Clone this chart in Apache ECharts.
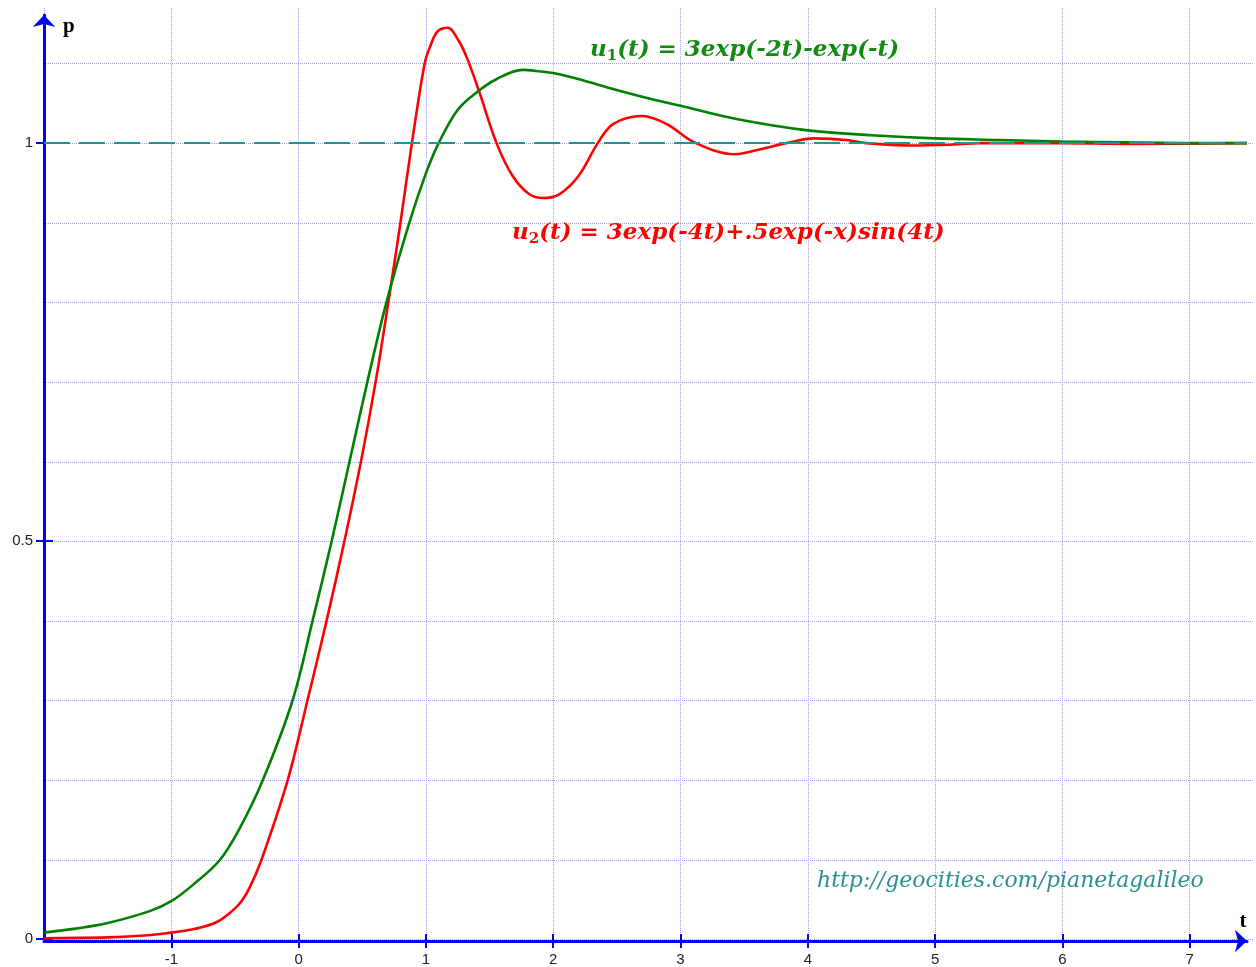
<!DOCTYPE html>
<html>
<head>
<meta charset="utf-8">
<script src="https://cdn.jsdelivr.net/npm/echarts@6/dist/echarts.min.js"></script>
<style>
html,body{margin:0;padding:0;background:#ffffff;}
#chart{width:1256px;height:967px;}
</style>
</head>
<body>
<div id="chart"></div>
<script>
// ---- data ----
const tGreen = [-2, -1.75, -1.5, -1.17, -1.0, -0.83, -0.62, -0.466, -0.28, -0.047, 0.11, 0.26, 0.40, 0.54, 0.69, 0.87, 1.0, 1.1, 1.25, 1.4, 1.55, 1.76, 1.9, 2.0, 2.21, 2.47, 2.73, 3.0, 3.45, 4.0, 4.5, 5.0, 5.5, 6.0, 6.5, 7.0, 7.45];
const pGreen = [0.008, 0.013, 0.020, 0.035, 0.0475, 0.068, 0.099, 0.138, 0.200, 0.300, 0.400, 0.500, 0.600, 0.700, 0.800, 0.900, 0.962, 1.000, 1.042, 1.064, 1.080, 1.092, 1.090, 1.088, 1.080, 1.068, 1.057, 1.047, 1.030, 1.016, 1.010, 1.006, 1.004, 1.002, 1.001, 1.000, 1.000];

const tRed = [-2, -1.5, -1.25, -1.0, -0.908, -0.777, -0.647, -0.57, -0.466, -0.387, -0.295, -0.085, 0.07, 0.22, 0.36, 0.49, 0.605, 0.705, 0.8, 0.89, 0.99, 1.03, 1.09, 1.17, 1.26, 1.33, 1.42, 1.555, 1.68, 1.81, 1.92, 2.05, 2.2, 2.35, 2.47, 2.7, 2.89, 3.12, 3.425, 3.62, 3.83, 4.05, 4.3, 4.46, 4.82, 5.1, 5.35, 6.0, 6.5, 7.45];
const pRed = [0.001, 0.002, 0.004, 0.008, 0.010, 0.014, 0.021, 0.029, 0.044, 0.064, 0.098, 0.200, 0.300, 0.400, 0.500, 0.600, 0.700, 0.800, 0.900, 1.000, 1.100, 1.120, 1.140, 1.145, 1.128, 1.104, 1.064, 1.000, 0.959, 0.936, 0.931, 0.936, 0.959, 1.000, 1.024, 1.034, 1.024, 1.000, 0.986, 0.992, 1.000, 1.006, 1.004, 1.000, 0.997, 0.998, 1.000, 1.000, 0.999, 1.000];

const xTickValues = [-1, 0, 1, 2, 3, 4, 5, 6, 7];
const yTickValues = [0, 0.5, 1];
const referenceLevel = 1;

const xRange = [-2, 7.45];
const yRange = [0, 1.161];
const gridXRange = [-2, 7];
const gridYRange = [0, 1.1];

const eq1 = '{a|u}{s|1}{a|(t) = 3exp(-2t)-exp(-t)}';
const eq2 = '{a|u}{s|2}{a|(t) = 3exp(-4t)+.5exp(-x)sin(4t)}';
const siteText = 'http://geocities.com/pianetagalileo';

// ---- chart ----
const pairs = (xs, ys) => xs.map((x, i) => [x, ys[i]]);
const BLUE = '#0000ff';
const GRIDC = '#a2a2f2';
const PX_X = 127.3;   // pixels per t unit
const PX_Y = 796.2;   // pixels per p unit
const Y0 = 939.5;     // pixel row of p = 0

const chart = echarts.init(document.getElementById('chart'), null, {renderer: 'canvas'});

const eqStyle = (color) => ({
  a: {fontFamily: 'DejaVu Serif', fontStyle: 'italic', fontWeight: 'bold', fontSize: 23, lineHeight: 28, fill: color, verticalAlign: 'middle'},
  s: {fontFamily: 'DejaVu Serif', fontStyle: 'normal', fontWeight: 'bold', fontSize: 15, lineHeight: 18, fill: color, verticalAlign: 'bottom'}
});

const hidden = {axisLine: {show: false, onZero: false}, axisTick: {show: false}, axisLabel: {show: false}, splitLine: {show: false}};

const option = {
  animation: false,
  backgroundColor: '#ffffff',
  grid: [
    {left: 44, top: 15, width: 1203, height: Y0 - 15, containLabel: false},
    // vertical guide lines: full height
    {left: 44, top: 8, width: 9 * PX_X, height: Y0 - 8, containLabel: false},
    // horizontal guide lines: full width
    {left: 44, top: Y0 - 1.1 * PX_Y, width: 1210, height: 1.1 * PX_Y, containLabel: false}
  ],
  xAxis: [
    {
      type: 'value', gridIndex: 0, min: xRange[0], max: xRange[1], offset: 2, position: 'bottom',
      axisLine: {show: true, onZero: false, symbol: ['none', 'arrow'], symbolSize: [17, 12], lineStyle: {color: BLUE, width: 3}},
      axisTick: {show: true, customValues: xTickValues, length: 7, lineStyle: {color: BLUE, width: 2}},
      axisLabel: {show: true, customValues: xTickValues, margin: 11, color: '#222', fontFamily: 'Liberation Sans', fontSize: 15},
      splitLine: {show: false},
      name: 't', nameLocation: 'end', nameGap: -4,
      nameTextStyle: {fontFamily: 'Liberation Serif', fontWeight: 'bold', fontSize: 21, color: '#000', align: 'center', verticalAlign: 'bottom', padding: [0, 0, 9, 0]}
    },
    {
      type: 'value', gridIndex: 0, min: xRange[0], max: xRange[1], offset: 2, position: 'bottom',
      axisLine: {show: false, onZero: false},
      axisTick: {show: true, inside: true, customValues: xTickValues, length: 7, lineStyle: {color: BLUE, width: 2}},
      axisLabel: {show: false}, splitLine: {show: false}
    },
    Object.assign({type: 'value', gridIndex: 1, min: gridXRange[0], max: gridXRange[1], interval: 1}, hidden,
      {splitLine: {show: true, lineStyle: {color: GRIDC, width: 1, type: 'dotted'}}}),
    Object.assign({type: 'value', gridIndex: 2, min: gridXRange[0], max: gridXRange[1]}, hidden)
  ],
  yAxis: [
    {
      type: 'value', gridIndex: 0, min: yRange[0], max: yRange[1], position: 'left',
      axisLine: {show: true, onZero: false, symbol: ['none', 'arrow'], symbolSize: [17, 12], lineStyle: {color: BLUE, width: 3}},
      axisTick: {show: true, customValues: yTickValues, length: 8, lineStyle: {color: BLUE, width: 2}},
      axisLabel: {show: true, customValues: yTickValues, margin: 11, color: '#222', fontFamily: 'Liberation Sans', fontSize: 15},
      splitLine: {show: false},
      name: 'p', nameLocation: 'end', nameGap: -12,
      nameTextStyle: {fontFamily: 'Liberation Serif', fontWeight: 'bold', fontSize: 21, color: '#000', align: 'left', verticalAlign: 'middle', padding: [0, 0, 0, 19]}
    },
    {
      type: 'value', gridIndex: 0, min: yRange[0], max: yRange[1], position: 'left',
      axisLine: {show: false, onZero: false},
      axisTick: {show: true, inside: true, customValues: yTickValues, length: 9, lineStyle: {color: BLUE, width: 2}},
      axisLabel: {show: false}, splitLine: {show: false}
    },
    Object.assign({type: 'value', gridIndex: 1, min: gridYRange[0], max: gridYRange[1]}, hidden),
    Object.assign({type: 'value', gridIndex: 2, min: gridYRange[0], max: gridYRange[1], interval: 0.1}, hidden,
      {splitLine: {show: true, lineStyle: {color: GRIDC, width: 1, type: 'dotted'}}})
  ],
  series: [
    {
      type: 'line', xAxisIndex: 0, yAxisIndex: 0, data: [], z: 1, silent: true,
      markLine: {
        silent: true, symbol: ['none', 'none'], label: {show: false},
        lineStyle: {color: '#1a9696', width: 2, type: [26, 9]},
        data: [{yAxis: referenceLevel}]
      }
    },
    {
      type: 'line', name: 'u2', xAxisIndex: 0, yAxisIndex: 0, data: pairs(tRed, pRed),
      smooth: 0.35, showSymbol: false, z: 3,
      lineStyle: {color: '#ff0000', width: 2.6}
    },
    {
      type: 'line', name: 'u1', xAxisIndex: 0, yAxisIndex: 0, data: pairs(tGreen, pGreen),
      smooth: 0.35, showSymbol: false, z: 4,
      lineStyle: {color: '#008000', width: 2.6}
    }
  ],
  graphic: [
    {type: 'text', x: 590, y: 50, z: 10, style: {text: eq1, rich: eqStyle('#138a13'), align: 'left', verticalAlign: 'middle'}},
    {type: 'text', x: 512, y: 233, z: 10, style: {text: eq2, rich: eqStyle('#ff0000'), align: 'left', verticalAlign: 'middle'}},
    {type: 'text', x: 817, y: 881, z: 10, style: {text: siteText, fontFamily: 'DejaVu Serif', fontStyle: 'italic', fontSize: 22, fill: '#2a9090', align: 'left', verticalAlign: 'middle'}}
  ]
};
chart.setOption(option);
</script>
</body>
</html>
